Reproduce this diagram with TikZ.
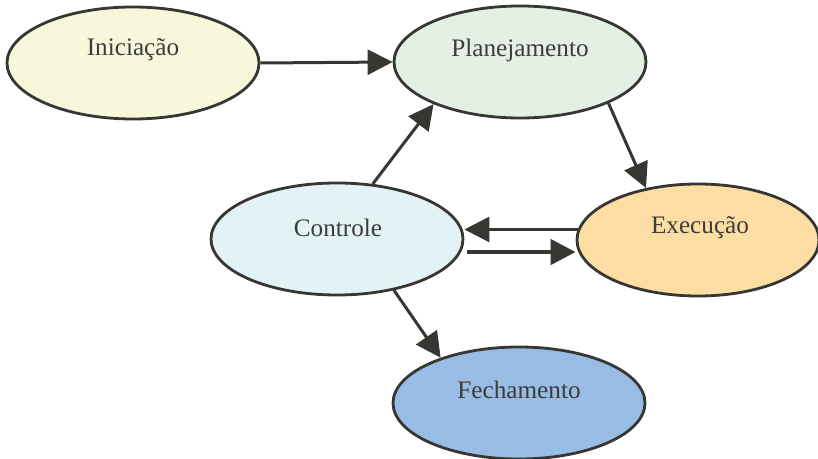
\documentclass[tikz,border=0pt]{standalone}
\usepackage{fontspec}
\setmainfont{Liberation Serif}
\usetikzlibrary{shapes.geometric,arrows.meta}

\definecolor{contorno}{HTML}{363632}
\definecolor{texto}{HTML}{3C3C3A}
\definecolor{corIni}{HTML}{F7F7DC}
\definecolor{corPlan}{HTML}{E4F0E4}
\definecolor{corCtrl}{HTML}{E2F2F5}
\definecolor{corExec}{HTML}{FCDDA4}
\definecolor{corFech}{HTML}{98BCE4}

\tikzset{
  fase/.style={ellipse,draw=contorno,line width=1.4pt,inner sep=0pt,
    minimum width=126pt,minimum height=56pt},
  rot/.style={text=texto,font=\fontsize{12.6}{15}\selectfont,inner sep=0pt},
  seta/.style={draw=contorno,line width=1.5pt,
    -{Triangle[length=12.5pt,width=12.5pt]}}
}

\begin{document}
\begin{tikzpicture}[x=0.5pt,y=-0.5pt]

\useasboundingbox (0,0) rectangle (818,459);

\node[fase,fill=corIni] (ini) at (133,63) {};
\node[fase,fill=corPlan] (plan) at (520,62) {};
\node[fase,fill=corCtrl] (ctrl) at (337,239) {};
\node[fase,fill=corExec,minimum width=121pt] (exec) at (698,240) {};
\node[fase,fill=corFech] (fech) at (519,403) {};

\node[rot] (ini-t) at (133,50) {Iniciação};
\node[rot] (plan-t) at (520,50) {Planejamento};
\node[rot] (ctrl-t) at (338,228) {Controle};
\node[rot] (exec-t) at (700,228) {Execução};
\node[rot] (fech-t) at (519,390) {Fechamento};

\draw[seta] (ini.east) -- (plan.west);
\draw[seta] (ctrl.57) -- (plan.206);
\draw[seta] (plan.335) -- (exec.135);
\draw[seta] (exec.175) -- (exec.175 -| ctrl.east);
\draw[seta,line width=2.3pt] ([xshift=3pt]ctrl.-6) -- (ctrl.-6 -| exec.west);
\draw[seta] (ctrl.-42) -- (fech.150);

\end{tikzpicture}
\end{document}
